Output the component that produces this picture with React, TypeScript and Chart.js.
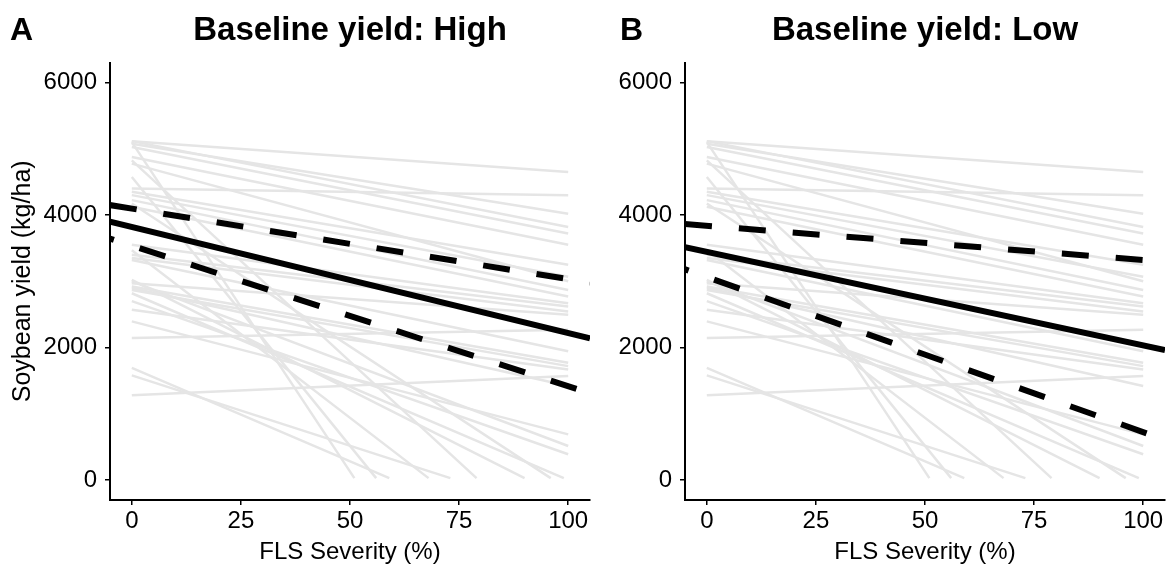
import React, { useEffect, useRef } from "react";
import { Chart, registerables } from "chart.js";

Chart.register(...registerables);

const FONT = "'Liberation Sans', Arial, Helvetica, sans-serif";

// Axis ticks
const severityTicks = [0, 25, 50, 75, 100];
const yieldTicks = [0, 2000, 4000, 6000];

// Study-level lines (grey): yield at 0 % severity, and where each line ends
const studyStartYield = [
  5115, 5115, 5100, 5075, 5025, 4875, 4825, 4775, 4575, 4400, 4350, 4300,
  4225, 4175, 4125, 3550, 3470, 3400, 3350, 3320, 3020, 2970, 2920, 2870,
  2820, 2570, 2395, 2145, 1695, 1580, 1280, 2900, 3000, 2700,
];
const studyEndSeverity = [
  100, 100, 51, 100, 100, 100, 79, 100, 56, 100, 100, 100,
  100, 96, 100, 100, 68, 100, 100, 100, 90, 100, 100, 100,
  99, 100, 100, 100, 59, 73, 100, 100, 100, 100,
];
const studyEndYield = [
  4650, 3820, 30, 4020, 3720, 3550, 30, 3000, 30, 4300, 3250, 3070,
  2870, 30, 2770, 2670, 30, 2620, 2545, 1945, 30, 2495, 1770, 1720,
  30, 1670, 690, 2270, 30, 30, 1570, 1420, 515, 390,
];

// Overall fits, baseline yield High
const highFitSeverity = [-5, 105];
const highFitYield = [3900, 2140];
const highUpperSeverity = [-5, 105];
const highUpperYield = [4150, 2980];
const highLowerSeverity = [-10, 105];
const highLowerYield = [3750, 1310];

// Overall fits, baseline yield Low
const lowFitSeverity = [-5, 105];
const lowFitYield = [3514, 1962];
const lowUpperSeverity = [-5, 105];
const lowUpperYield = [3863, 3296];
const lowLowerSeverity = [-10, 105];
const lowLowerYield = [3298, 607];

const toPoints = (xs: number[], ys: number[]) => xs.map((x, i) => ({ x, y: ys[i] }));

function buildDatasets(fit: [number[], number[]], upper: [number[], number[]], lower: [number[], number[]]) {
  const ds: any[] = [];
  const black = (pts: any[], dashed: boolean) => ({
    data: pts,
    borderColor: "#000000",
    borderWidth: 6,
    borderDash: dashed ? [27, 27] : [],
    borderCapStyle: "butt",
    pointRadius: 0,
    tension: 0,
    clip: 0,
    order: 0,
  });
  ds.push(black(toPoints(fit[0], fit[1]), false));
  ds.push(black(toPoints(upper[0], upper[1]), true));
  ds.push(black(toPoints(lower[0], lower[1]), true));
  for (let i = 0; i < studyStartYield.length; i++) {
    ds.push({
      data: [
        { x: 0, y: studyStartYield[i] },
        { x: studyEndSeverity[i], y: studyEndYield[i] },
      ],
      borderColor: "#E5E5E5",
      borderWidth: 2.5,
      pointRadius: 0,
      tension: 0,
      order: 2,
    });
  }
  return ds;
}

const panelLetter = (letter: string, x: number, y: number) => ({
  id: "panelLetter" + letter,
  afterDraw(chart: any) {
    const ctx = chart.ctx;
    ctx.save();
    ctx.font = `bold 32px ${FONT}`;
    ctx.fillStyle = "#000";
    ctx.textAlign = "left";
    ctx.textBaseline = "alphabetic";
    ctx.fillText(letter, x, y);
    ctx.restore();
  },
});

function makeConfig(opts: {
  title: string;
  letter: string;
  letterX: number;
  yWidth: number;
  showYTitle: boolean;
  datasets: any[];
}) {
  const axisGrid = {
    display: true,
    drawOnChartArea: false,
    drawTicks: true,
    tickLength: 5,
    color: "#000",
    lineWidth: 1.5,
  };
  const axisBorder = { display: true, color: "#000", width: 2 };
  return {
    type: "line",
    data: { datasets: opts.datasets },
    options: {
      animation: false,
      responsive: false,
      events: [],
      layout: { padding: { left: 0, right: 10, top: 0, bottom: 0 } },
      plugins: {
        legend: { display: false },
        tooltip: { enabled: false },
        title: {
          display: true,
          text: opts.title,
          fullSize: false,
          color: "#000",
          font: { family: FONT, size: 33, weight: "bold" },
          padding: { top: 11, bottom: 12 },
        },
      },
      scales: {
        x: {
          type: "linear",
          min: -5,
          max: 105,
          afterBuildTicks: (s: any) => {
            s.ticks = severityTicks.map((v) => ({ value: v }));
          },
          afterFit: (s: any) => {
            s.height = 73;
          },
          grid: axisGrid,
          border: axisBorder,
          ticks: {
            color: "#000",
            font: { family: FONT, size: 24 },
            padding: 2,
            maxRotation: 0,
            autoSkip: false,
            callback: (v: any) => String(v),
          },
          title: {
            display: true,
            text: "FLS Severity (%)",
            color: "#000",
            font: { family: FONT, size: 24 },
            padding: { top: 0, bottom: 6 },
          },
        },
        y: {
          type: "linear",
          min: -300,
          max: 6300,
          afterBuildTicks: (s: any) => {
            s.ticks = yieldTicks.map((v) => ({ value: v }));
          },
          afterFit: (s: any) => {
            s.width = opts.yWidth;
          },
          grid: axisGrid,
          border: axisBorder,
          ticks: {
            color: "#000",
            font: { family: FONT, size: 24 },
            padding: 8,
            autoSkip: false,
            callback: (v: any) => String(v),
          },
          title: {
            display: opts.showYTitle,
            text: "Soybean yield (kg/ha)",
            color: "#000",
            font: { family: FONT, size: 25 },
            padding: { top: 8, bottom: 0 },
          },
        },
      },
    },
    plugins: [panelLetter(opts.letter, opts.letterX, 40)],
  };
}

export default function App() {
  const refA = useRef<HTMLCanvasElement | null>(null);
  const refB = useRef<HTMLCanvasElement | null>(null);

  useEffect(() => {
    const chartA = new Chart(
      refA.current as HTMLCanvasElement,
      makeConfig({
        title: "Baseline yield: High",
        letter: "A",
        letterX: 10,
        yWidth: 110,
        showYTitle: true,
        datasets: buildDatasets(
          [highFitSeverity, highFitYield],
          [highUpperSeverity, highUpperYield],
          [highLowerSeverity, highLowerYield]
        ),
      }) as any
    );
    const chartB = new Chart(
      refB.current as HTMLCanvasElement,
      makeConfig({
        title: "Baseline yield: Low",
        letter: "B",
        letterX: 25,
        yWidth: 90,
        showYTitle: false,
        datasets: buildDatasets(
          [lowFitSeverity, lowFitYield],
          [lowUpperSeverity, lowUpperYield],
          [lowLowerSeverity, lowLowerYield]
        ),
      }) as any
    );
    return () => {
      chartA.destroy();
      chartB.destroy();
    };
  }, []);

  return (
    <div
      style={{
        position: "absolute",
        left: 0,
        top: 0,
        width: 1175,
        height: 573,
        background: "#fff",
      }}
    >
      <canvas
        ref={refA}
        width={600}
        height={573}
        style={{ position: "absolute", left: 0, top: 0, width: 600, height: 573 }}
      />
      <canvas
        ref={refB}
        width={580}
        height={573}
        style={{ position: "absolute", left: 595, top: 0, width: 580, height: 573 }}
      />
    </div>
  );
}
